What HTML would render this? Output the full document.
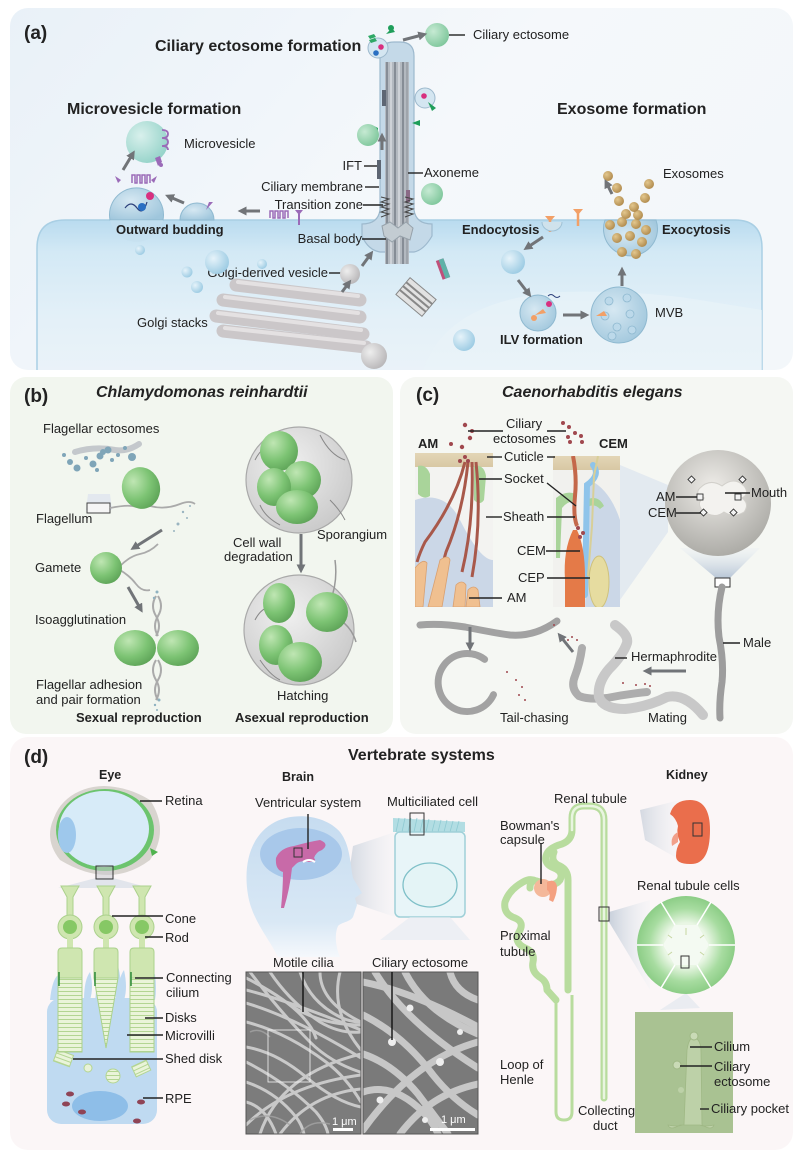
<!DOCTYPE html>
<html><head><meta charset="utf-8"><style>
html,body{margin:0;padding:0;background:#fff;}
svg{display:block;}
text{font-family:"Liberation Sans",Arial,sans-serif;fill:#222;}
.l{font-size:13px;}
.b{font-weight:bold;font-size:13px;}
.h{font-weight:bold;font-size:16px;}
.p{font-weight:bold;font-size:19px;}
.sub{font-weight:bold;font-size:12.5px;}
.ln{stroke:#222;stroke-width:1.4;fill:none;}
.ar{stroke:#717478;stroke-width:3;fill:none;marker-end:url(#ah);}
</style></head><body>
<svg width="799" height="1162" viewBox="0 0 799 1162" xmlns="http://www.w3.org/2000/svg">
<defs>
<marker id="ah" viewBox="0 0 10 10" refX="4" refY="5" markerWidth="3" markerHeight="3" orient="auto"><path d="M0,0 L10,5 L0,10 z" fill="#717478"/></marker>
<linearGradient id="gA" x1="0" y1="0" x2="1" y2="0.4"><stop offset="0" stop-color="#e9f1f8"/><stop offset="0.6" stop-color="#f5f8fb"/><stop offset="1" stop-color="#f3f7fa"/></linearGradient>
<linearGradient id="cell" x1="0" y1="0" x2="0" y2="1"><stop offset="0" stop-color="#b9dbef"/><stop offset="0.2" stop-color="#d3e9f5"/><stop offset="0.6" stop-color="#e3f0f8"/><stop offset="1" stop-color="#ebf3f9"/></linearGradient>
<radialGradient id="grn" cx="0.35" cy="0.3" r="0.75"><stop offset="0" stop-color="#bfe6b3"/><stop offset="0.6" stop-color="#7cc373"/><stop offset="1" stop-color="#5ea458"/></radialGradient>
<radialGradient id="gball" cx="0.35" cy="0.35" r="0.7"><stop offset="0" stop-color="#c6ead3"/><stop offset="1" stop-color="#7fc79c"/></radialGradient>
<radialGradient id="bball" cx="0.35" cy="0.35" r="0.7"><stop offset="0" stop-color="#e6f3fa"/><stop offset="1" stop-color="#9ccbe3"/></radialGradient>
<radialGradient id="vball" cx="0.4" cy="0.4" r="0.7"><stop offset="0" stop-color="#d6e8f2"/><stop offset="1" stop-color="#9fc6dc"/></radialGradient>
<radialGradient id="tball" cx="0.35" cy="0.35" r="0.7"><stop offset="0" stop-color="#d8f0ec"/><stop offset="1" stop-color="#95d3c9"/></radialGradient>
<radialGradient id="gray" cx="0.35" cy="0.35" r="0.7"><stop offset="0" stop-color="#eeeeee"/><stop offset="1" stop-color="#b9b7b9"/></radialGradient>
<radialGradient id="tan" cx="0.35" cy="0.35" r="0.7"><stop offset="0" stop-color="#e3c78e"/><stop offset="1" stop-color="#b08a4c"/></radialGradient>
<radialGradient id="spor" cx="0.4" cy="0.35" r="0.7"><stop offset="0" stop-color="#f0f0f0"/><stop offset="1" stop-color="#c9c9c9"/></radialGradient>
<radialGradient id="head" cx="0.45" cy="0.35" r="0.7"><stop offset="0" stop-color="#eeece8"/><stop offset="1" stop-color="#a8a7a2"/></radialGradient>
<radialGradient id="ring" cx="0.5" cy="0.5" r="0.5"><stop offset="0.45" stop-color="#e9f6e4"/><stop offset="0.75" stop-color="#a7dca0"/><stop offset="1" stop-color="#8ccd86"/></radialGradient>
<linearGradient id="proj" x1="0" y1="0" x2="1" y2="0"><stop offset="0" stop-color="#c3ccd8"/><stop offset="1" stop-color="#eef2f6" stop-opacity="0.3"/></linearGradient>
<linearGradient id="projv" x1="0" y1="1" x2="0" y2="0"><stop offset="0" stop-color="#b8c6d6"/><stop offset="1" stop-color="#e8eef4" stop-opacity="0.3"/></linearGradient>
<linearGradient id="headb" x1="0" y1="0" x2="0" y2="1"><stop offset="0" stop-color="#c6dcf0"/><stop offset="0.75" stop-color="#d9e8f5"/><stop offset="1" stop-color="#f5f8fc"/></linearGradient>
<linearGradient id="tanband" x1="0" y1="0" x2="0" y2="1"><stop offset="0" stop-color="#e3d6b6"/><stop offset="1" stop-color="#d8c8a4"/></linearGradient>
<clipPath id="cA"><rect x="10" y="8" width="783" height="362" rx="18"/></clipPath>
<clipPath id="cAM"><rect x="415" y="453" width="78" height="154"/></clipPath>
<clipPath id="cCEM"><rect x="553" y="456" width="67" height="151"/></clipPath>
<clipPath id="cS1"><rect x="246" y="972" width="115" height="162"/></clipPath>
<clipPath id="cS2"><rect x="363" y="972" width="115" height="162"/></clipPath>
<pattern id="stripes" width="4" height="4" patternUnits="userSpaceOnUse"><rect width="4" height="4" fill="#eaf4d9"/><line x1="0" y1="3.5" x2="4" y2="3.5" stroke="#b3d592" stroke-width="1"/></pattern>
</defs>

<!-- ================= PANEL A ================= -->
<rect x="10" y="8" width="783" height="362" rx="18" fill="url(#gA)"/>
<g clip-path="url(#cA)">
<path d="M37,380 L37,248 Q37,220 65,220 L735,220 Q762,220 762,248 L762,380 Z" fill="url(#cell)" stroke="#a9cfe4" stroke-width="1.5"/>
<path d="M420,380 Q440,300 560,292 Q640,290 700,300 L762,310 L762,380 Z" fill="#e9f3f9" opacity="0.6"/>
</g>
<text x="24" y="39" class="p">(a)</text>
<text x="155" y="51" class="h">Ciliary ectosome formation</text>
<text x="67" y="114" class="h">Microvesicle formation</text>
<text x="557" y="114" class="h">Exosome formation</text>

<!-- cilium -->
<path d="M362,224 Q378,224 380,210 L380,56 Q380,42 394,42 L400,42 Q414,42 414,56 L414,210 Q416,224 432,224 L432,236 Q424,250 414,252 L380,252 Q368,250 362,236 Z" fill="#c4d9e8" stroke="#9db9cd" stroke-width="1.2"/>
<rect x="385" y="62" width="24" height="202" fill="#b3b9c0"/>
<g stroke-width="1.6">
<line x1="387" y1="62" x2="387" y2="264" stroke="#7b828b"/>
<line x1="391" y1="62" x2="391" y2="264" stroke="#d5d9dd"/>
<line x1="395" y1="62" x2="395" y2="264" stroke="#7b828b"/>
<line x1="399" y1="62" x2="399" y2="264" stroke="#d5d9dd"/>
<line x1="403" y1="62" x2="403" y2="264" stroke="#7b828b"/>
<line x1="407" y1="62" x2="407" y2="264" stroke="#9aa0a7"/>
</g>
<rect x="377" y="160" width="4" height="19" fill="#5d6673"/>
<rect x="382" y="90" width="4" height="16" fill="#5d6673"/>
<rect x="406" y="190" width="4" height="12" fill="#8a6a86"/>
<polyline points="381,197 389,199 381,202 389,204 381,207 389,209 381,212 389,214 381,217" fill="none" stroke="#444" stroke-width="1"/>
<polyline points="405,197 413,199 405,202 413,204 405,207 413,209 405,212 413,214 405,217" fill="none" stroke="#444" stroke-width="1"/>
<path d="M382,226 L390,222 L398,228 L406,222 L413,228 L410,240 L400,236 L392,242 L384,236 Z" fill="#c3ccd2" stroke="#96a1aa" stroke-width="1"/>
<circle cx="378" cy="48" r="10" fill="#d4e6f1" stroke="#9db9cd"/>
<circle cx="381" cy="47" r="2.8" fill="#d8307f"/>
<circle cx="376" cy="53" r="2.8" fill="#2a6fc2"/>
<path d="M368,36 l6,-2 l2,3 l-6,2 z M369,40 l6,-2 l2,3 l-6,2z" fill="#2fa866"/>
<path d="M386,34 l6,-6 l3,4 z" fill="#1f9e5a"/>
<circle cx="391" cy="28" r="3" fill="#1f9e5a"/>
<circle cx="425" cy="98" r="10" fill="#d4e6f1" stroke="#9db9cd"/>
<circle cx="424" cy="96" r="2.8" fill="#d8307f"/>
<path d="M428,102 l8,6 l-4,3 z" fill="#1f9e5a"/>
<path d="M412,123 l8,-3 l0,6 z" fill="#1f9e5a"/>
<path d="M378,128 l-4,-2 l0,12 l4,-2 z" fill="#2fa866"/>
<circle cx="368" cy="135" r="11" fill="url(#gball)"/>
<circle cx="432" cy="194" r="11" fill="url(#gball)"/>
<circle cx="437" cy="35" r="12" fill="url(#gball)"/>
<line x1="403" y1="40" x2="422" y2="35" class="ar"/>
<line x1="382" y1="150" x2="382" y2="138" class="ar"/>
<line x1="449" y1="35" x2="465" y2="35" class="ln"/>
<text x="473" y="39" class="l">Ciliary ectosome</text>
<text x="424" y="177" class="l">Axoneme</text>
<line x1="408" y1="173" x2="423" y2="173" class="ln"/>
<text x="362" y="170" class="l" text-anchor="end">IFT</text>
<line x1="364" y1="166" x2="377" y2="166" class="ln"/>
<text x="363" y="191" class="l" text-anchor="end">Ciliary membrane</text>
<line x1="365" y1="187" x2="379" y2="187" class="ln"/>
<text x="363" y="209" class="l" text-anchor="end">Transition zone</text>
<line x1="363" y1="205" x2="383" y2="205" class="ln"/>
<text x="362" y="243" class="l" text-anchor="end">Basal body</text>
<line x1="362" y1="239" x2="386" y2="239" class="ln"/>
<text x="328" y="277" class="l" text-anchor="end">Golgi-derived vesicle</text>
<line x1="329" y1="273" x2="343" y2="273" class="ln"/>
<text x="137" y="327" class="l">Golgi stacks</text>

<!-- golgi -->
<g stroke="#cbc7c9" stroke-width="13" stroke-linecap="round" fill="none">
<line x1="236" y1="285" x2="360" y2="300"/>
<line x1="223" y1="300" x2="360" y2="317"/>
<line x1="216" y1="316" x2="363" y2="334"/>
<line x1="223" y1="331" x2="366" y2="347"/>
</g>
<g stroke="#e4e1e2" stroke-width="4" stroke-linecap="round" fill="none">
<line x1="238" y1="282" x2="358" y2="296"/>
<line x1="225" y1="297" x2="358" y2="313"/>
<line x1="218" y1="313" x2="361" y2="330"/>
<line x1="225" y1="328" x2="364" y2="343"/>
</g>
<circle cx="350" cy="274" r="10" fill="url(#gray)"/>
<circle cx="374" cy="356" r="13" fill="url(#gray)"/>
<line x1="342" y1="292" x2="348" y2="284" class="ar"/>
<line x1="362" y1="266" x2="370" y2="255" class="ar"/>
<g transform="translate(443,269) rotate(-20)"><rect x="-4" y="-10" width="8" height="20" fill="#c0507a"/><rect x="-1" y="-10" width="5" height="20" fill="#5fb2a8"/></g>
<g transform="translate(416,297) rotate(40)"><rect x="-17" y="-11" width="34" height="22" fill="#e2e2e2" stroke="#888"/><line x1="-17" y1="-5" x2="17" y2="-5" stroke="#888" stroke-width="2"/><line x1="-17" y1="0" x2="17" y2="0" stroke="#888" stroke-width="2"/><line x1="-17" y1="5" x2="17" y2="5" stroke="#888" stroke-width="2"/></g>
<circle cx="464" cy="340" r="11" fill="url(#bball)"/>

<!-- microvesicle side -->
<circle cx="140" cy="250" r="5" fill="url(#bball)"/>
<circle cx="187" cy="272" r="5.5" fill="url(#bball)"/>
<circle cx="197" cy="287" r="6" fill="url(#bball)"/>
<circle cx="217" cy="262" r="12" fill="url(#bball)"/>
<circle cx="262" cy="264" r="5" fill="url(#bball)"/>
<path d="M110,220 A27,27 0 1 1 163,220 Z" fill="url(#vball)" stroke="#8fb9d0"/>
<path d="M110,220 A27,27 0 0 0 163,220" fill="#c5e0ee" opacity="0.6"/>
<path d="M125,208 q6,-8 12,0 q6,8 10,-6" fill="none" stroke="#2b3f7a" stroke-width="1.2"/>
<circle cx="150" cy="196" r="4" fill="#d8307f"/>
<circle cx="142" cy="207" r="4" fill="#2a6fc2"/>
<path d="M180,220 A17,17 0 0 1 214,220 Z" fill="url(#vball)" stroke="#8fb9d0"/>
<circle cx="147" cy="142" r="21" fill="url(#tball)"/>
<path d="M162,130 q6,0 6,4 q0,4 -6,4 q6,0 6,4 q0,4 -6,4 q6,0 6,4" fill="none" stroke="#9b6bb8" stroke-width="1.8"/>
<path d="M155,158 l5,-2 l2,6 l-4,4 z" fill="#9b6bb8"/><circle cx="161" cy="165" r="2" fill="#9b6bb8"/>
<path d="M115,176 l6,4 l-3,3 z M157,176 l-6,4 l3,3 z" fill="#9b6bb8"/>
<path d="M132,183 v-8 h3 v8 h2 v-8 h3 v8 h2 v-8 h3 v8 h2 v-8 h3 v8" fill="none" stroke="#9b6bb8" stroke-width="1.5"/>
<path d="M206,210 l3,-8 l4,0 z" fill="#9b6bb8"/>
<path d="M270,218 v-7 h3 v7 h2 v-7 h3 v7 h2 v-7 h3 v7 h2 v-7 h3 v7" fill="none" stroke="#9b6bb8" stroke-width="1.5"/>
<path d="M295,210 h8 l-4,5 z" fill="#9b6bb8"/><line x1="299" y1="214" x2="299" y2="225" stroke="#9b6bb8" stroke-width="2"/>
<line x1="260" y1="211" x2="243" y2="211" class="ar"/>
<line x1="184" y1="203" x2="170" y2="197" class="ar"/>
<line x1="123" y1="170" x2="132" y2="155" class="ar"/>
<text x="184" y="148" class="l">Microvesicle</text>
<text x="116" y="234" class="b">Outward budding</text>

<!-- exosome side -->
<path d="M550,222 l5,-6 h-10 z M578,215 l5,-6 h-10z" fill="#f2a067"/>
<line x1="550" y1="220" x2="550" y2="232" stroke="#f2a067" stroke-width="2.5"/>
<line x1="578" y1="213" x2="578" y2="226" stroke="#f2a067" stroke-width="2.5"/>
<path d="M542,222 A10,9 0 0 0 562,222" fill="#cfe2ec" stroke="#9fc2d6"/>
<circle cx="513" cy="262" r="12" fill="url(#bball)"/>
<circle cx="538" cy="313" r="18" fill="url(#vball)" stroke="#8fb9d0"/>
<circle cx="549" cy="304" r="3" fill="#d8307f"/>
<path d="M535,315 l8,-6 l3,4 z" fill="#f2a067"/><circle cx="534" cy="318" r="3" fill="#f2a067"/>
<path d="M548,296 q3,-3 6,0 q3,3 6,0" fill="none" stroke="#2b3f7a" stroke-width="1"/>
<circle cx="619" cy="315" r="28" fill="url(#vball)" stroke="#8fb9d0"/>
<g fill="#bcd9ea" stroke="#8fb9d0" stroke-width="0.8">
<circle cx="609" cy="301" r="4"/><circle cx="627" cy="298" r="4"/><circle cx="605" cy="316" r="4"/><circle cx="630" cy="314" r="4"/><circle cx="617" cy="327" r="4"/><circle cx="632" cy="330" r="4"/><circle cx="612" cy="336" r="4"/>
</g>
<path d="M596,316 l8,-5 l3,5 z" fill="#f2a067"/>
<path d="M605,220 A27,27 0 1 0 656,220 Z" fill="url(#vball)" stroke="#8fb9d0"/>
<g fill="url(#tan)">
<circle cx="610" cy="225" r="5"/><circle cx="622" cy="222" r="5"/><circle cx="636" cy="224" r="5"/><circle cx="646" cy="230" r="5"/><circle cx="617" cy="238" r="5"/><circle cx="630" cy="236" r="5"/><circle cx="642" cy="242" r="5"/><circle cx="622" cy="252" r="5"/><circle cx="636" cy="254" r="5"/>
<circle cx="626" cy="214" r="5"/><circle cx="638" cy="215" r="5"/><circle cx="619" cy="201" r="5"/><circle cx="645" cy="198" r="5"/><circle cx="617" cy="188" r="5"/><circle cx="649" cy="184" r="5"/><circle cx="608" cy="176" r="5"/><circle cx="634" cy="207" r="5"/>
</g>
<line x1="543" y1="237" x2="528" y2="247" class="ar"/>
<line x1="518" y1="280" x2="528" y2="293" class="ar"/>
<line x1="563" y1="315" x2="584" y2="315" class="ar"/>
<line x1="622" y1="286" x2="622" y2="272" class="ar"/>
<line x1="612" y1="194" x2="607" y2="184" class="ar"/>
<text x="663" y="178" class="l">Exosomes</text>
<text x="462" y="234" class="b">Endocytosis</text>
<text x="662" y="234" class="b">Exocytosis</text>
<text x="655" y="317" class="l">MVB</text>
<text x="500" y="344" class="b">ILV formation</text>

<!-- ================= PANEL B ================= -->
<rect x="10" y="377" width="383" height="357" rx="16" fill="#f2f6ef"/>
<text x="24" y="402" class="p">(b)</text>
<text x="96" y="397" font-weight="bold" font-style="italic" font-size="16">Chlamydomonas  reinhardtii</text>
<text x="43" y="433" class="l">Flagellar ectosomes</text>
<path d="M75,452 q20,-6 40,-2 q12,2 24,-6" fill="none" stroke="#c4c8cc" stroke-width="6" stroke-linecap="round"/>
<g fill="#7fa5b8">
<circle cx="64" cy="455" r="2"/><circle cx="70" cy="462" r="3"/><circle cx="77" cy="468" r="3.5"/><circle cx="86" cy="458" r="2"/><circle cx="93" cy="464" r="3.5"/><circle cx="100" cy="456" r="3.5"/><circle cx="103" cy="452" r="3"/><circle cx="108" cy="450" r="3.5"/><circle cx="112" cy="460" r="2"/><circle cx="118" cy="455" r="2"/><circle cx="125" cy="448" r="2"/><circle cx="132" cy="457" r="4"/><circle cx="97" cy="470" r="2"/>
</g>
<path d="M88,494 L110,494 L112,510 L86,510 Z" fill="#dfe5ef" opacity="0.8"/>
<rect x="87" y="503" width="23" height="10" fill="#f5f5f5" stroke="#444" stroke-width="1"/>
<path d="M110,508 q15,-3 22,-2 q10,2 18,0 q15,4 30,-2 q10,-4 15,0" fill="none" stroke="#aaa" stroke-width="1.8"/>
<ellipse cx="141" cy="488" rx="19" ry="21" fill="url(#grn)" transform="rotate(-15 141 488)"/>
<g fill="#9ab4c0"><circle cx="183" cy="512" r="1.2"/><circle cx="187" cy="518" r="1"/><circle cx="178" cy="524" r="1.5"/><circle cx="174" cy="531" r="1"/><circle cx="190" cy="506" r="1"/></g>
<text x="36" y="523" class="l">Flagellum</text>
<line x1="162" y1="530" x2="135" y2="547" class="ar"/>
<path d="M120,566 q10,-10 20,-12 q10,-2 18,-10 M120,570 q10,6 16,14 q6,8 14,6" fill="none" stroke="#aaa" stroke-width="1.8"/>
<ellipse cx="106" cy="568" rx="16" ry="16" fill="url(#grn)"/>
<text x="35" y="572" class="l">Gamete</text>
<line x1="128" y1="587" x2="140" y2="608" class="ar"/>
<text x="35" y="624" class="l">Isoagglutination</text>
<path d="M156,596 q-6,10 0,20 q6,10 0,20 M156,660 q-6,10 0,20 q6,10 0,20" fill="none" stroke="#aaa" stroke-width="2"/>
<path d="M158,596 q6,10 0,20 q-6,10 0,20 M158,660 q6,10 0,20 q-6,10 0,20" fill="none" stroke="#aaa" stroke-width="2"/>
<g fill="#8fb2c0"><circle cx="157" cy="592" r="1.5"/><circle cx="154" cy="598" r="1.2"/><circle cx="159" cy="700" r="1.5"/><circle cx="155" cy="705" r="1.2"/><circle cx="157" cy="710" r="1"/></g>
<ellipse cx="135" cy="648" rx="21" ry="18" fill="url(#grn)"/>
<ellipse cx="178" cy="648" rx="21" ry="18" fill="url(#grn)"/>
<text x="36" y="689" class="l">Flagellar adhesion</text>
<text x="36" y="704" class="l">and pair formation</text>
<text x="76" y="722" class="b">Sexual reproduction</text>
<text x="235" y="722" class="b">Asexual reproduction</text>
<circle cx="299" cy="480" r="53" fill="url(#spor)" stroke="#a9a9a9" stroke-width="1.2"/>
<path d="M255,460 q10,-20 30,-15 M320,435 q10,20 25,25 M330,500 q10,10 15,20 M260,505 q5,12 20,20" fill="none" stroke="#888" stroke-width="1"/>
<ellipse cx="279" cy="451" rx="19" ry="20" fill="url(#grn)"/>
<ellipse cx="302" cy="480" rx="19" ry="19" fill="url(#grn)"/>
<ellipse cx="274" cy="487" rx="17" ry="19" fill="url(#grn)"/>
<ellipse cx="297" cy="507" rx="21" ry="17" fill="url(#grn)"/>
<line x1="301" y1="534" x2="301" y2="568" class="ar"/>
<text x="233" y="547" class="l">Cell wall</text>
<text x="224" y="561" class="l">degradation</text>
<text x="317" y="539" class="l">Sporangium</text>
<circle cx="299" cy="630" r="55" fill="url(#spor)" stroke="#a9a9a9" stroke-width="1.2"/>
<path d="M330,602 q8,-20 5,-42 M340,620 q12,8 16,22" fill="none" stroke="#999" stroke-width="1.5"/>
<path d="M255,620 q10,-20 30,-10 M260,660 q10,15 20,20" fill="none" stroke="#888" stroke-width="1"/>
<ellipse cx="279" cy="603" rx="16" ry="20" fill="url(#grn)"/>
<ellipse cx="327" cy="612" rx="21" ry="20" fill="url(#grn)"/>
<ellipse cx="276" cy="645" rx="17" ry="20" fill="url(#grn)"/>
<ellipse cx="300" cy="662" rx="22" ry="20" fill="url(#grn)"/>
<text x="277" y="700" class="l">Hatching</text>

<!-- ================= PANEL C ================= -->
<rect x="400" y="377" width="393" height="357" rx="16" fill="#f5f7f3"/>
<text x="416" y="401" class="p">(c)</text>
<text x="502" y="397" font-weight="bold" font-style="italic" font-size="16">Caenorhabditis elegans</text>
<path d="M620,465 L668,485 L668,532 L620,600 Z" fill="#dfe6ef" opacity="0.8"/>
<path d="M716,578 L730,578 L760,548 L680,548 Z" fill="url(#projv)"/>
<g clip-path="url(#cAM)">
<rect x="415" y="453" width="78" height="154" fill="#f3f3f1"/>
<path d="M415,500 q30,-10 45,20 q20,40 33,40 L493,607 L415,607 Z" fill="#cbd7e7"/>
<rect x="415" y="453" width="78" height="14" fill="url(#tanband)"/>
<path d="M418,466 q8,-2 12,8 l0,22 q-6,4 -12,-2 z" fill="#a9d49a"/>
<path d="M474,466 q10,-2 12,10 l-2,24 q-4,6 -10,0 z" fill="#a9d49a"/>
<g fill="none" stroke="#a8584a" stroke-width="3">
<path d="M465,462 q-10,40 -40,80 q-5,10 -8,20"/>
<path d="M468,462 q-5,50 -22,90 q-3,10 -4,20"/>
<path d="M472,462 q2,60 -10,110"/>
<path d="M476,462 q6,60 -4,115"/>
</g>
<g fill="#f0c090" stroke="#d9a070" stroke-width="0.8">
<path d="M415,568 q8,-10 12,-5 l-4,44 l-8,0z"/>
<path d="M440,560 q8,-6 10,0 l-8,47 l-14,0z"/>
<path d="M456,585 q6,-6 10,0 l-1,22 l-12,0z"/>
<path d="M468,590 q6,-6 10,0 l2,17 l-14,0z"/>
</g>
</g>
<g clip-path="url(#cCEM)">
<rect x="553" y="456" width="67" height="151" fill="#f1f1ee"/>
<path d="M590,480 q20,10 30,40 L620,607 L585,607 Z" fill="#cbd7e7"/>
<rect x="553" y="456" width="67" height="14" fill="url(#tanband)"/>
<path d="M556,498 q10,-8 20,-4 l0,8 q-8,-2 -14,6 l-2,50 l-4,0z" fill="#a9d49a"/>
<path d="M586,500 q12,-6 18,6 l-4,3 q-6,-6 -12,-2z" fill="#a9d49a"/>
<path d="M593,465 q8,10 -6,20 l-2,110" fill="none" stroke="#8fc4ea" stroke-width="6" stroke-linecap="round"/>
<path d="M598,456 l-4,20 l-2,50 l-4,50" fill="none" stroke="#d8cf98" stroke-width="2"/>
<ellipse cx="599" cy="582" rx="10" ry="26" fill="#e6dca0" stroke="#cfc27e"/>
<path d="M573,456 q4,20 2,40 q-2,20 2,30" fill="none" stroke="#c4684a" stroke-width="4"/>
<path d="M573,530 q-10,20 -8,50 l0,27 l20,0 l0,-30 q0,-30 -8,-47z" fill="#e47a48"/>
</g>
<g fill="#a0484e">
<circle cx="465" cy="425" r="2.2"/><circle cx="472" cy="431" r="2"/><circle cx="470" cy="438" r="2.2"/><circle cx="451" cy="444" r="2"/><circle cx="462" cy="447" r="2.2"/><circle cx="465" cy="457" r="2"/><circle cx="460" cy="461" r="2"/><circle cx="468" cy="461" r="2"/>
<circle cx="563" cy="423" r="2"/><circle cx="569" cy="427" r="2"/><circle cx="575" cy="433" r="2"/><circle cx="568" cy="437" r="2"/><circle cx="581" cy="436" r="2"/><circle cx="570" cy="442" r="2"/><circle cx="582" cy="442" r="2"/>
<circle cx="578" cy="528" r="2"/><circle cx="583" cy="533" r="2"/><circle cx="580" cy="537" r="2"/>
</g>
<text x="506" y="428" class="l">Ciliary</text>
<text x="493" y="443" class="l">ectosomes</text>
<line x1="468" y1="431" x2="503" y2="431" class="ln"/>
<line x1="547" y1="431" x2="566" y2="431" class="ln"/>
<text x="418" y="448" class="b">AM</text>
<text x="599" y="448" class="b">CEM</text>
<text x="504" y="461" class="l">Cuticle</text>
<line x1="487" y1="457" x2="502" y2="457" class="ln"/>
<line x1="547" y1="457" x2="555" y2="457" class="ln"/>
<text x="504" y="483" class="l">Socket</text>
<line x1="479" y1="479" x2="502" y2="479" class="ln"/>
<line x1="547" y1="483" x2="576" y2="506" class="ln"/>
<text x="503" y="521" class="l">Sheath</text>
<line x1="486" y1="517" x2="502" y2="517" class="ln"/>
<line x1="547" y1="517" x2="575" y2="517" class="ln"/>
<text x="517" y="555" class="l">CEM</text>
<line x1="546" y1="551" x2="580" y2="551" class="ln"/>
<text x="518" y="582" class="l">CEP</text>
<line x1="547" y1="578" x2="590" y2="578" class="ln"/>
<text x="507" y="602" class="l">AM</text>
<line x1="469" y1="598" x2="502" y2="598" class="ln"/>
<circle cx="718" cy="503" r="53" fill="url(#head)"/>
<path d="M700,488 q10,-10 22,-2 q12,-10 22,0 q6,8 -2,12 q8,6 2,14 q-10,6 -20,0 q-10,8 -22,-2 q-6,-8 2,-12 q-10,-4 -4,-10z" fill="#f3f2ef" stroke="#d2d0cb"/>
<g fill="#f3f3f3" stroke="#333" stroke-width="0.9">
<rect x="697" y="494" width="6" height="6"/><rect x="735" y="494" width="6" height="6"/>
<rect x="689" y="477" width="5" height="5" transform="rotate(45 691.5 479.5)"/>
<rect x="740" y="477" width="5" height="5" transform="rotate(45 742.5 479.5)"/>
<rect x="701" y="510" width="5" height="5" transform="rotate(45 703.5 512.5)"/>
<rect x="731" y="510" width="5" height="5" transform="rotate(45 733.5 512.5)"/>
</g>
<text x="656" y="501" class="l">AM</text>
<line x1="676" y1="497" x2="697" y2="497" class="ln"/>
<text x="648" y="517" class="l">CEM</text>
<line x1="676" y1="513" x2="701" y2="513" class="ln"/>
<text x="751" y="497" class="l">Mouth</text>
<line x1="725" y1="493" x2="750" y2="493" class="ln"/>
<!-- worms -->
<rect x="715" y="578" width="15" height="9" fill="#fff" stroke="#333" stroke-width="1"/>
<path d="M722,587 q-6,25 -3,50 q5,25 3,45 q-3,20 -2,36" fill="none" stroke="#9d9d9d" stroke-width="7" stroke-linecap="round"/>
<line x1="723" y1="643" x2="740" y2="643" class="ln"/>
<text x="743" y="647" class="l">Male</text>
<path d="M420,625 q20,-2 45,2 q30,6 45,8 q25,2 47,-14" fill="none" stroke="#a2a2a2" stroke-width="7" stroke-linecap="round"/>
<path d="M495,670 a29,29 0 1 0 -10,35" fill="none" stroke="#a2a2a2" stroke-width="7" stroke-linecap="round" transform="rotate(-30 470 684)"/>
<line x1="470" y1="627" x2="470" y2="646" class="ar"/>
<line x1="573" y1="652" x2="561" y2="637" class="ar"/>
<line x1="686" y1="671" x2="648" y2="671" class="ar"/>
<g fill="#a0484e"><circle cx="507" cy="672" r="1"/><circle cx="516" cy="680" r="1"/><circle cx="522" cy="687" r="1"/><circle cx="519" cy="695" r="1"/><circle cx="525" cy="700" r="1"/><circle cx="554" cy="625" r="1"/><circle cx="572" cy="637" r="1"/><circle cx="577" cy="640" r="1"/><circle cx="568" cy="640" r="1"/><circle cx="581" cy="656" r="1"/><circle cx="623" cy="683" r="1"/><circle cx="636" cy="685" r="1"/><circle cx="645" cy="684" r="1"/><circle cx="650" cy="686" r="1"/></g>
<path d="M582,648 q-2,15 -7,28 q-5,12 4,20 q10,4 28,2 q20,-4 40,-6" fill="none" stroke="#adadad" stroke-width="8" stroke-linecap="round"/>
<path d="M615,625 q14,10 12,18 q-4,12 -18,26 q-12,14 -10,28 q4,12 26,12 q22,-2 42,-12 q18,-4 36,18" fill="none" stroke="#c8c8c8" stroke-width="10" stroke-linecap="round"/>
<line x1="615" y1="658" x2="627" y2="658" class="ln"/>
<text x="631" y="661" class="l">Hermaphrodite</text>
<text x="500" y="722" class="l">Tail-chasing</text>
<text x="648" y="722" class="l">Mating</text>

<!-- ================= PANEL D ================= -->
<rect x="10" y="737" width="783" height="413" rx="18" fill="#fbf6f7"/>
<text x="24" y="763" class="p">(d)</text>
<text x="348" y="760" class="h">Vertebrate systems</text>
<text x="99" y="779" class="sub">Eye</text>
<text x="282" y="781" class="sub">Brain</text>
<text x="666" y="779" class="sub">Kidney</text>
<path d="M60,808 Q100,770 150,800 Q170,830 150,860 Q110,890 60,860 Q40,835 60,808 Z" fill="#d8d4cf"/>
<ellipse cx="104" cy="830" rx="52" ry="44" fill="#d8d4cf"/>
<ellipse cx="105" cy="830" rx="49" ry="41" fill="#6cc46e"/>
<ellipse cx="104" cy="829" rx="45" ry="38" fill="#d7ebf8"/>
<path d="M150,848 l8,4 l-6,4 z" fill="#4fb34e"/>
<ellipse cx="67" cy="835" rx="9" ry="18" fill="#9ec8ec"/>
<path d="M96,878 L113,878 L150,888 L58,888 Z" fill="#dfe3ea" opacity="0.9"/>
<rect x="96" y="866" width="17" height="13" fill="#c8c8d0" fill-opacity="0.5" stroke="#333" stroke-width="1"/>
<line x1="140" y1="801" x2="162" y2="801" class="ln"/>
<text x="165" y="805" class="l">Retina</text>
<rect x="47" y="998" width="110" height="126" rx="14" fill="#bfdaf1"/>
<g fill="#bfdaf1">
<path d="M50,1000 q2,-20 8,-25 q4,15 2,25z"/><path d="M84,1000 q0,-20 6,-28 q4,15 0,28z"/><path d="M118,1000 q0,-22 6,-30 q4,18 0,30z"/><path d="M150,1000 q0,-20 5,-26 q2,15 0,26z"/>
<path d="M94,1010 q4,-30 2,-50 q6,20 4,50z"/><path d="M117,1010 q-4,-30 0,-48 q6,20 4,48z"/>
</g>
<ellipse cx="100" cy="1106" rx="28" ry="15" fill="#8ebee8"/>
<g fill="#8f4456"><ellipse cx="70" cy="1094" rx="4" ry="2.5"/><ellipse cx="66" cy="1104" rx="4" ry="2.5"/><ellipse cx="82" cy="1112" rx="4" ry="2.5"/><ellipse cx="141" cy="1102" rx="4" ry="2.5"/><ellipse cx="137" cy="1121" rx="4" ry="2.5"/></g>
<circle cx="88" cy="1068" r="4" fill="#e8f2d8" stroke="#b3d592"/>
<circle cx="113" cy="1076" r="7" fill="url(#stripes)" stroke="#b3d592"/>
<rect x="55" y="1052" width="17" height="12" fill="url(#stripes)" stroke="#b3d592" transform="rotate(20 63 1058)"/>
<rect x="133" y="1063" width="16" height="11" fill="url(#stripes)" stroke="#b3d592" transform="rotate(-25 141 1068)"/>
<g id="pr">
<path d="M61,886 L79,886 L73,897 L73,916 L67,916 L67,897 Z" fill="#cfe6b0" stroke="#abd18c"/>
<circle cx="70" cy="927" r="12" fill="#cfe6b0" stroke="#abd18c"/>
<circle cx="70" cy="927" r="7" fill="#86c865"/>
<rect x="67" y="938" width="6" height="12" fill="#cfe6b0"/>
<path d="M58,978 L58,952 Q58,948 62,948 L78,948 Q82,948 82,952 L82,978 Z" fill="#cfe6b0" stroke="#abd18c"/>
<rect x="58" y="978" width="24" height="74" fill="url(#stripes)" stroke="#abd18c"/>
<line x1="59" y1="972" x2="59" y2="986" stroke="#2d8a3a" stroke-width="1.5"/>
</g>
<use href="#pr" x="72"/>
<path d="M97,886 L115,886 L109,897 L109,916 L103,916 L103,897 Z" fill="#cfe6b0" stroke="#abd18c"/>
<circle cx="106" cy="927" r="12" fill="#cfe6b0" stroke="#abd18c"/>
<circle cx="106" cy="927" r="7" fill="#86c865"/>
<rect x="103" y="938" width="6" height="12" fill="#cfe6b0"/>
<path d="M94,978 L94,952 Q94,948 98,948 L114,948 Q118,948 118,952 L118,978 Z" fill="#cfe6b0" stroke="#abd18c"/>
<path d="M94,978 L118,978 L106,1048 Z" fill="url(#stripes)" stroke="#abd18c"/>
<line x1="95" y1="972" x2="95" y2="986" stroke="#2d8a3a" stroke-width="1.5"/>
<line x1="112" y1="916" x2="163" y2="916" class="ln"/>
<text x="165" y="923" class="l">Cone</text>
<line x1="145" y1="937" x2="163" y2="937" class="ln"/>
<text x="165" y="942" class="l">Rod</text>
<line x1="135" y1="978" x2="163" y2="978" class="ln"/>
<text x="166" y="982" class="l">Connecting</text>
<text x="166" y="997" class="l">cilium</text>
<line x1="145" y1="1018" x2="163" y2="1018" class="ln"/>
<text x="165" y="1022" class="l">Disks</text>
<line x1="127" y1="1035" x2="163" y2="1035" class="ln"/>
<text x="165" y="1040" class="l">Microvilli</text>
<line x1="73" y1="1059" x2="163" y2="1059" class="ln"/>
<text x="165" y="1063" class="l">Shed disk</text>
<line x1="143" y1="1098" x2="163" y2="1098" class="ln"/>
<text x="165" y="1103" class="l">RPE</text>
<!-- brain -->
<path d="M353,846 L395,832 L395,917 L345,900 Z" fill="url(#proj)" opacity="0.8"/>
<path d="M278,957 C270,940 252,920 248,895 C243,865 250,835 275,822 C295,812 325,815 340,832 C350,845 350,862 353,878 L362,893 L355,898 L357,905 L353,917 C350,922 342,922 338,926 C334,935 336,948 340,957 Z" fill="url(#headb)"/>
<ellipse cx="301" cy="854" rx="41" ry="26" fill="#a8c8ea"/>
<path d="M276,858 q4,-10 18,-12 q14,-4 26,-6 q10,4 2,10 q-6,2 -8,8 q4,4 -6,4 q-8,-2 -12,2 l-4,4 q-2,20 -8,40 l-3,0 q2,-20 2,-36 q-8,-2 -7,-14z" fill="#c86aa8"/>
<path d="M303,862 q6,-4 12,0" fill="none" stroke="#fff" stroke-width="2"/>
<rect x="294" y="848" width="8" height="9" fill="none" stroke="#333" stroke-width="1"/>
<line x1="308" y1="814" x2="308" y2="849" class="ln"/>
<text x="255" y="807" class="l">Ventricular system</text>
<text x="387" y="806" class="l">Multiciliated cell</text>
<path d="M393,832 L393,818 L465,822 L465,832 Z" fill="#b2dde3"/>
<g stroke="#8fcad2" stroke-width="0.8"><line x1="396" y1="832" x2="399" y2="818"/><line x1="402" y1="832" x2="405" y2="818"/><line x1="408" y1="832" x2="411" y2="818"/><line x1="414" y1="832" x2="417" y2="818"/><line x1="420" y1="832" x2="423" y2="819"/><line x1="426" y1="832" x2="429" y2="819"/><line x1="432" y1="832" x2="435" y2="820"/><line x1="438" y1="832" x2="441" y2="820"/><line x1="444" y1="832" x2="447" y2="820"/><line x1="450" y1="832" x2="453" y2="821"/><line x1="456" y1="832" x2="459" y2="821"/></g>
<rect x="395" y="832" width="70" height="85" rx="5" fill="#e8f5f8" stroke="#9fd0d8" stroke-width="1.5"/>
<ellipse cx="430" cy="885" rx="27" ry="22" fill="#e4f4f6" stroke="#7fc0c8" stroke-width="1.3"/>
<rect x="410" y="813" width="14" height="22" fill="none" stroke="#333" stroke-width="1"/>
<path d="M410,917 L450,917 L470,940 L380,940 Z" fill="#e5ebf1" opacity="0.6"/>
<text x="273" y="967" class="l">Motile cilia</text>
<text x="372" y="967" class="l">Ciliary ectosome</text>
<!-- SEM left -->
<g clip-path="url(#cS1)">
<rect x="246" y="972" width="115" height="162" fill="#7c7c7c"/>
<g fill="none" stroke="#d2d2d2" stroke-width="3" stroke-linecap="round" opacity="0.9">
<path d="M246,990 q40,10 115,40"/><path d="M246,1003 q50,15 115,55"/><path d="M250,972 q30,40 60,70 q20,20 50,30"/><path d="M246,1022 q40,10 80,40 q20,15 35,40"/><path d="M270,972 q20,30 50,50 q20,12 41,10"/><path d="M300,972 q10,30 40,45 q10,5 21,5"/><path d="M246,1047 q30,5 60,30 q30,25 55,30"/><path d="M246,1062 q40,20 70,50 q10,12 12,22"/><path d="M246,1082 q30,10 50,35 q6,8 8,17"/><path d="M320,972 q0,30 41,50"/><path d="M246,1102 q20,5 30,32"/><path d="M260,1134 q20,-60 101,-80"/><path d="M280,1134 q30,-40 81,-45"/><path d="M246,1125 q40,-40 115,-50"/><path d="M340,972 q-10,40 21,78"/><path d="M246,978 q60,30 70,60"/><path d="M290,1005 q30,20 71,20"/>
</g>
<g fill="none" stroke="#a4a4a4" stroke-width="1.5" opacity="0.8"><path d="M250,1120 q20,-10 40,5"/><path d="M300,1134 q10,-15 30,-10"/><path d="M250,1032 q10,-5 20,5"/></g>
<rect x="268" y="1030" width="42" height="52" fill="none" stroke="#f4f4f4" stroke-width="0.8"/>
</g>
<rect x="246" y="972" width="115" height="162" fill="none" stroke="#555" stroke-width="1"/>
<line x1="303" y1="972" x2="303" y2="1012" stroke="#111" stroke-width="1.4"/>
<text x="332" y="1125" font-size="11" style="fill:#fff">1 μm</text>
<rect x="333" y="1128" width="20" height="3" fill="#fff"/>
<!-- SEM right -->
<g clip-path="url(#cS2)">
<rect x="363" y="972" width="115" height="162" fill="#7a7a7a"/>
<g fill="none" stroke="#d0d0d0" stroke-width="7" stroke-linecap="round" opacity="0.9">
<path d="M363,982 q50,10 115,45"/><path d="M375,972 q30,50 103,96"/><path d="M363,1015 q40,20 70,60 q20,25 45,40"/><path d="M405,972 q20,40 73,62"/><path d="M363,1054 q30,10 55,40 q15,20 30,40"/><path d="M363,1092 q30,-10 60,20 q10,10 15,22"/><path d="M450,972 q5,20 28,28"/><path d="M363,1130 q50,-70 115,-88"/><path d="M400,1134 q30,-40 78,-50"/>
</g>
<g fill="#eee"><circle cx="392" cy="1042" r="4"/><circle cx="410" cy="1008" r="3.5"/><circle cx="440" cy="1062" r="4"/><circle cx="380" cy="1100" r="3.5"/><circle cx="460" cy="1032" r="3"/><circle cx="425" cy="1120" r="3"/></g>
</g>
<rect x="363" y="972" width="115" height="162" fill="none" stroke="#555" stroke-width="1"/>
<line x1="392" y1="972" x2="392" y2="1040" stroke="#111" stroke-width="1.4"/>
<text x="441" y="1123" font-size="11" style="fill:#fff">1 μm</text>
<rect x="430" y="1128" width="45" height="3" fill="#fff"/>
<!-- kidney -->
<path d="M609,912 L650,900 L650,990 L609,922 Z" fill="url(#proj)" opacity="0.9"/>
<path d="M640,810 L680,800 L680,860 L645,840 Z" fill="url(#proj)" opacity="0.7"/>
<path d="M686,993 L700,1008 L660,1010 Z" fill="#e3e8ee" opacity="0.7"/>
<g fill="none" stroke="#b8dc9e" stroke-width="7" stroke-linecap="round" stroke-linejoin="round">
<path d="M604,1098 L604,820 q0,-14 -14,-14 l-6,0 q-12,0 -12,12 l0,12 q0,10 -10,14 q-14,4 -16,12 q-2,8 8,12 q10,4 6,12 q-6,8 -20,2 q-10,-4 -10,6"/>
<path d="M543,886 q-10,-10 -20,-4 q-14,8 -18,20 q-2,12 10,16 q10,4 4,14 q-6,10 6,16 q10,4 8,14 q-2,10 8,16 q6,4 6,12 L556,1000"/>
<path d="M568,990 L568,880 q0,-10 -8,-14 q-10,-4 -6,-14"/>
</g>
<g fill="none" stroke="#e9f5e0" stroke-width="2.5" stroke-linecap="round">
<path d="M604,1098 L604,820 q0,-14 -14,-14 l-6,0 q-12,0 -12,12 l0,12"/>
</g>
<path d="M556,1000 L556,1112 q0,8 8,8 q8,0 8,-8 L572,995" fill="none" stroke="#b8dc9e" stroke-width="3"/>
<circle cx="543" cy="888" r="9" fill="#f4b89a"/>
<path d="M547,882 q8,-4 10,4 q0,8 -4,16 l-4,-2 q2,-8 -2,-10z" fill="#f4a080"/>
<line x1="541" y1="843" x2="541" y2="884" class="ln"/>
<rect x="599" y="907" width="10" height="14" fill="none" stroke="#333" stroke-width="1"/>
<text x="554" y="803" class="l">Renal tubule</text>
<text x="500" y="830" class="l">Bowman's</text>
<text x="500" y="844" class="l">capsule</text>
<text x="500" y="940" class="l">Proximal</text>
<text x="500" y="956" class="l">tubule</text>
<text x="500" y="1069" class="l">Loop of</text>
<text x="500" y="1084" class="l">Henle</text>
<text x="578" y="1115" class="l">Collecting</text>
<text x="593" y="1130" class="l">duct</text>
<path d="M690,800 q20,0 20,30 q0,35 -20,34 q-14,0 -14,-8 q0,-8 4,-14 q-4,-8 -2,-16 q-2,-8 -8,-12 q4,-14 20,-14z" fill="#ea6e4c"/>
<path d="M678,832 q-8,4 -6,14 l6,-4 z" fill="#f2a08a"/>
<rect x="693" y="823" width="9" height="13" fill="none" stroke="#333" stroke-width="1"/>
<text x="637" y="890" class="l">Renal tubule cells</text>
<circle cx="686" cy="945" r="49" fill="url(#ring)"/>
<polygon points="709,945 697.5,965 674.5,965 663,945 674.5,925 697.5,925" fill="#f4faf2"/>
<g stroke="#fff" stroke-width="1.5"><line x1="709" y1="945" x2="735" y2="945"/><line x1="663" y1="945" x2="637" y2="945"/><line x1="697" y1="925" x2="711" y2="902"/><line x1="675" y1="925" x2="661" y2="902"/><line x1="697" y1="965" x2="711" y2="988"/><line x1="675" y1="965" x2="661" y2="988"/></g>
<g stroke="#c6d6a0" stroke-width="1"><line x1="686" y1="928" x2="686" y2="935"/><line x1="700" y1="938" x2="704" y2="935"/><line x1="672" y1="938" x2="668" y2="935"/><line x1="700" y1="952" x2="704" y2="955"/><line x1="672" y1="952" x2="668" y2="955"/></g>
<rect x="681" y="956" width="8" height="12" fill="none" stroke="#333" stroke-width="1"/>
<rect x="635" y="1012" width="98" height="121" fill="#a9c292"/>
<path d="M684,1125 L687,1050 q2,-14 8,-12 q6,2 6,14 L702,1125 q10,6 12,0 q-10,2 -14,0 l-18,0 q-4,2 -14,0 q2,6 12,0z" fill="#bdd1a8" stroke="#9fb885" stroke-width="0.8"/>
<circle cx="694" cy="1036" r="4" fill="#c9dab6" stroke="#9fb885"/>
<circle cx="677" cy="1065" r="4" fill="#c9dab6" stroke="#9fb885"/>
<circle cx="681" cy="1090" r="3" fill="#bdd1a8"/>
<line x1="690" y1="1047" x2="712" y2="1047" class="ln"/>
<text x="714" y="1051" class="l">Cilium</text>
<line x1="680" y1="1066" x2="712" y2="1066" class="ln"/>
<text x="714" y="1071" class="l">Ciliary</text>
<text x="714" y="1086" class="l">ectosome</text>
<line x1="700" y1="1109" x2="709" y2="1109" class="ln"/>
<text x="711" y="1113" class="l">Ciliary pocket</text>
</svg>
</body></html>
